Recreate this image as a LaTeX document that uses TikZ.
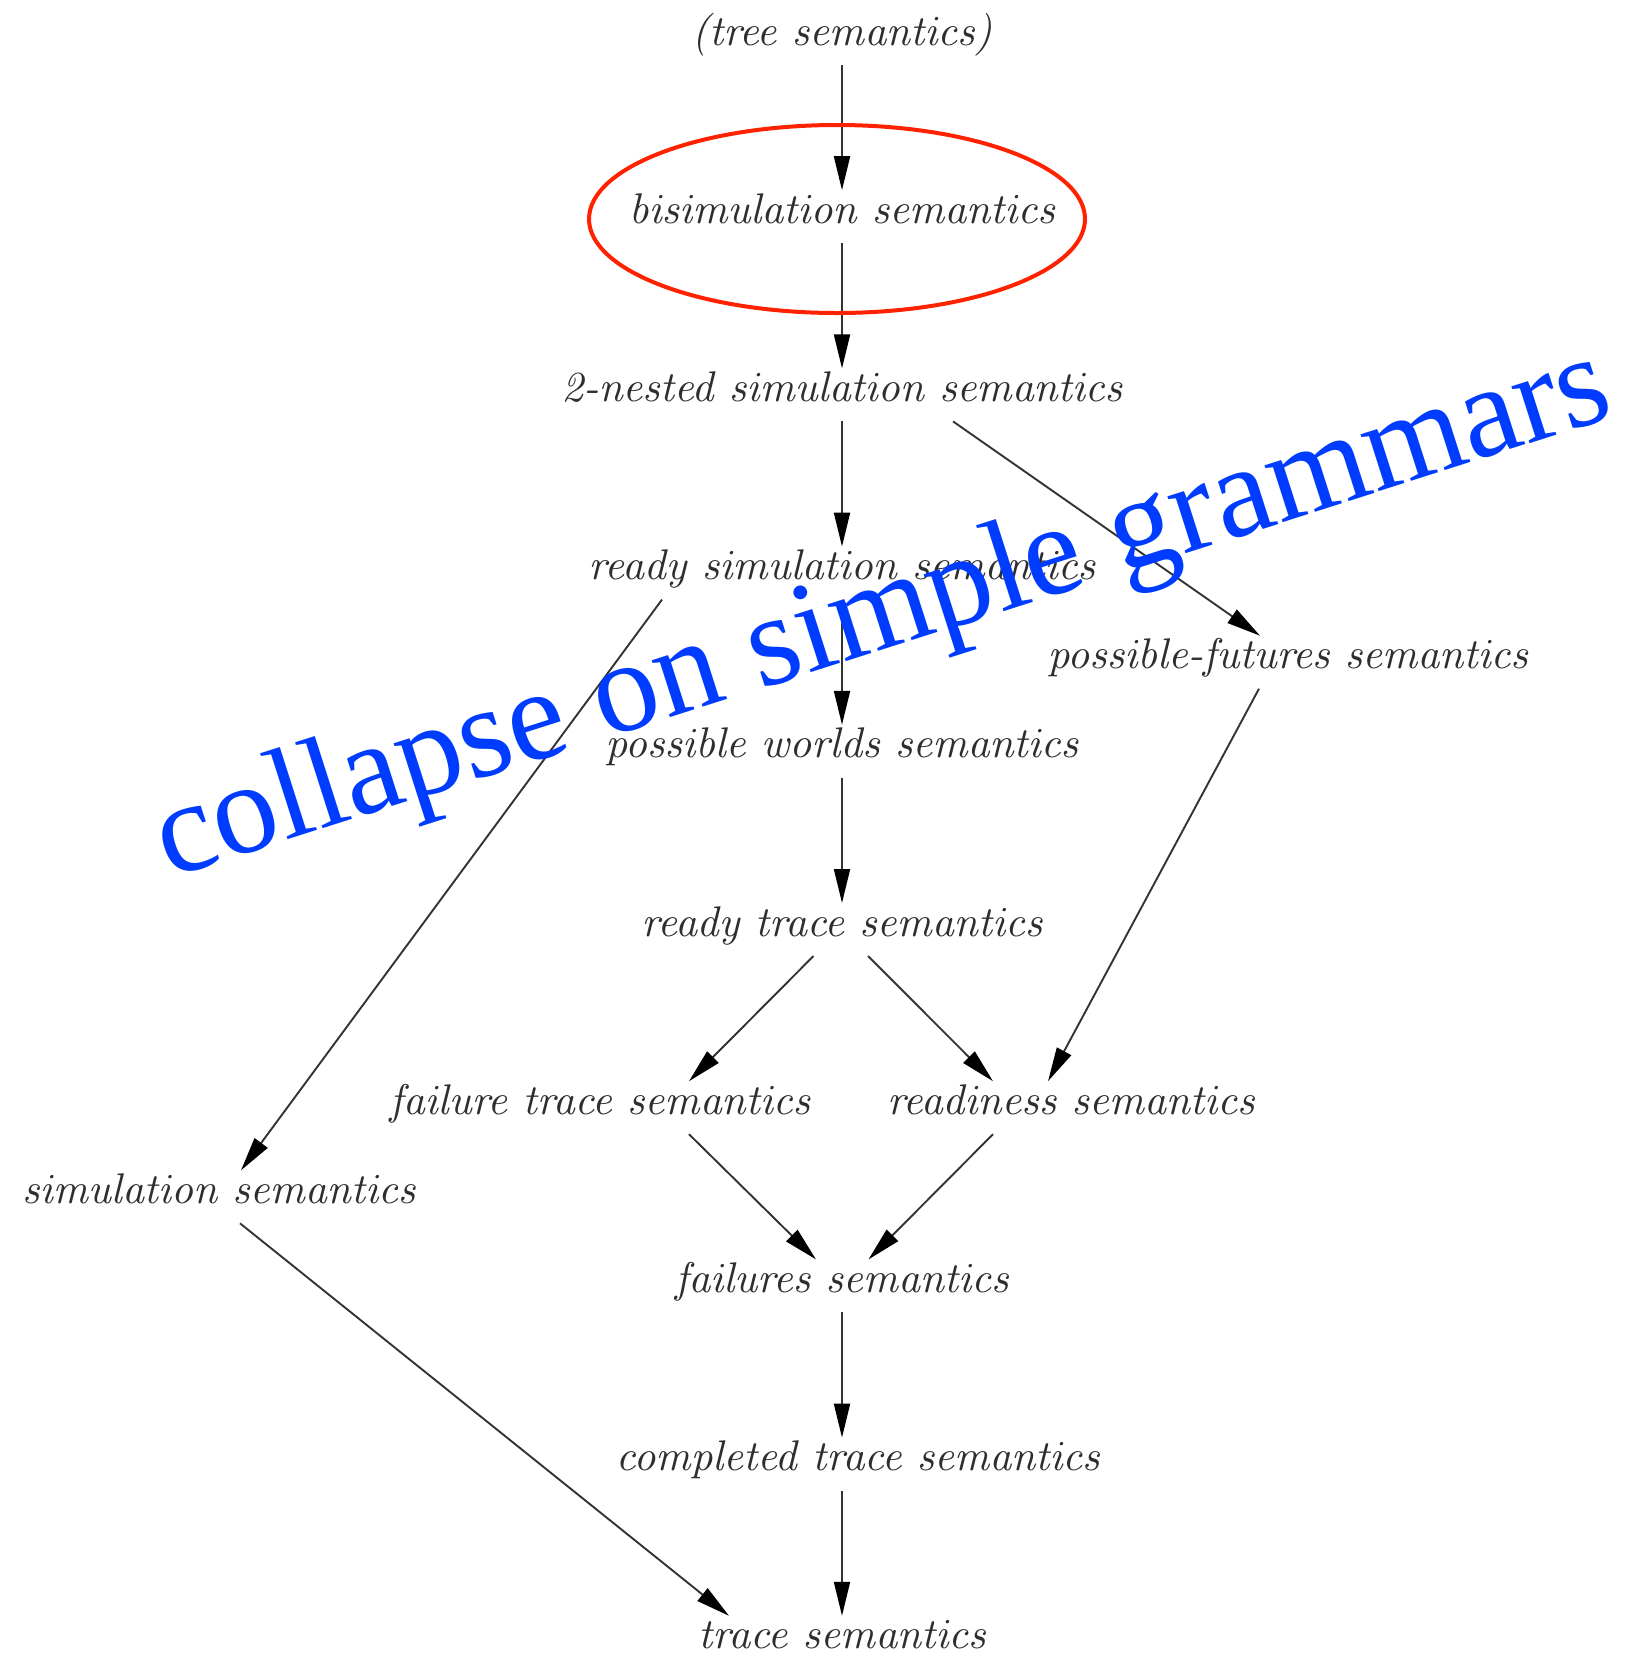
\documentclass[tikz,border=0pt]{standalone}
\usepackage{fontspec}
\usetikzlibrary{arrows.meta,shapes.geometric}
% italic Computer Modern for the semantics labels, Times-like serif for the banner
\font\semfont=cmti10 at 42.9pt
\newfontfamily\bannerfont{Liberation Serif}
\definecolor{inkgray}{gray}{0.18}
\definecolor{linegray}{gray}{0.2}
\definecolor{bannerblue}{RGB}{0,60,255}
\definecolor{ringred}{RGB}{255,34,0}

\begin{document}
\begin{tikzpicture}[x=1pt,y=-1pt,
  sem/.style={inner sep=0pt, outer sep=0pt, text height=33pt, text depth=20pt,
              anchor=base, font=\semfont, text=inkgray},
  edge/.style={draw=linegray, line width=1.9pt,
               -{Triangle[length=34pt,width=16pt,color=black]}}]
\useasboundingbox (0,0) rectangle (1627,1657);

% semantics, one rank every 178.2pt
\node[sem] (tree)       at (842,45)     {(tree semantics)};
\node[sem] (bisim)      at (842,223.2)  {bisimulation semantics};
\node[sem] (nested)     at (842,401.4)  {2-nested simulation semantics};
\node[sem] (readysim)   at (842,579.6)  {ready simulation semantics};
\node[sem] (futures)    at (1288,668.7) {possible-futures semantics};
\node[sem] (worlds)     at (842,757.8)  {possible worlds semantics};
\node[sem] (readytrace) at (842,936)    {ready trace semantics};
\node[sem] (failtrace)  at (600,1114.2) {failure trace semantics};
\node[sem] (readiness)  at (1071,1114.2){readiness semantics};
\node[sem] (sim)        at (219,1203.3) {simulation semantics};
\node[sem] (failures)   at (842,1292.4) {failures semantics};
\node[sem] (completed)  at (858,1470.6) {completed trace semantics};
\node[sem] (trace)      at (842,1648.8) {trace semantics};

% refinement arrows
\draw[edge] (tree.south) -- (bisim.north);
\draw[edge] (bisim.south) -- (nested.north);
\draw[edge] (nested.south) -- (readysim.north);
\draw[edge] ([xshift=111pt]nested.south) -- ([xshift=-28pt]futures.north);
\draw[edge] (readysim.south) -- (worlds.north);
\draw[edge] ([xshift=-180pt]readysim.south) -- ([xshift=22pt]sim.north);
\draw[edge] (worlds.south) -- (readytrace.north);
\draw[edge] ([xshift=-29pt]futures.south) -- ([xshift=-23pt]readiness.north);
\draw[edge] ([xshift=-28.5pt]readytrace.south) -- ([xshift=89pt]failtrace.north);
\draw[edge] ([xshift=26pt]readytrace.south) -- ([xshift=-78pt]readiness.north);
\draw[edge] ([xshift=89pt]failtrace.south) -- ([xshift=-26pt]failures.north);
\draw[edge] ([xshift=-78pt]readiness.south) -- ([xshift=26.5pt]failures.north);
\draw[edge] (failures.south) -- ([xshift=-16pt]completed.north);
\draw[edge] ([xshift=21pt]sim.south) -- ([xshift=-113pt]trace.north);
\draw[edge] ([xshift=-16pt]completed.south) -- (trace.north);

% highlight ring around bisimulation
\node[draw=ringred, line width=4pt, ellipse, inner sep=0pt,
      minimum width=496pt, minimum height=188pt] (ring) at (837,219) {};

% slanted banner across the lattice
\node[font=\bannerfont\fontsize{130}{131}\selectfont, text=bannerblue,
      rotate=17.7, anchor=base, inner sep=0pt] (banner) at (893,647)
      {collapse on simple grammars};
\end{tikzpicture}
\end{document}
